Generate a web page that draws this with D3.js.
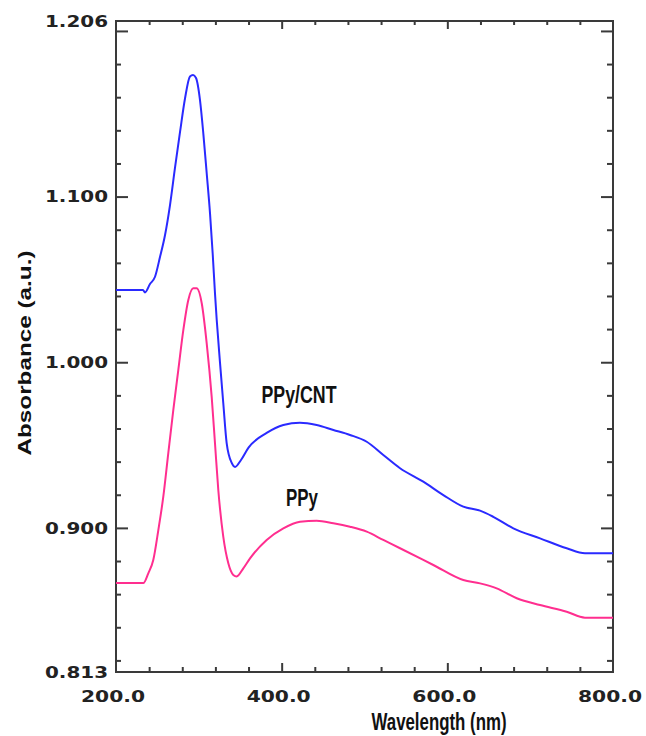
<!DOCTYPE html>
<html>
<head>
<meta charset="utf-8">
<script src="https://cdn.jsdelivr.net/npm/d3@7/dist/d3.min.js"></script>
<style>
  html, body { margin: 0; padding: 0; background: #fff; }
  svg { display: block; }
</style>
</head>
<body>
<svg id="chart" width="646" height="736"></svg>
<script>
// ---- data ----
const wavelengthCNT = [200, 232.6, 235.0, 241.0, 247.1, 253.1, 259.2, 265.2, 271.2, 277.3,
  283.3, 289.3, 293.0, 296.6, 301.4, 305.4, 309.5, 313.5, 316.7, 319.5,
  321.6, 325.6, 329.5, 333.6, 339.7, 343.7, 350.9, 360.0, 381.9, 402.0,
  422.1, 442.3, 462.4, 482.5, 502.7, 522.7, 542.9, 571.0, 595.2, 619.3,
  639.5, 655.5, 679.7, 711.9, 744.1, 766.2, 800];
const absorbanceCNT = [1.0436, 1.0436, 1.0421, 1.0472, 1.0516, 1.0635, 1.0768, 1.0949, 1.1173, 1.1390,
  1.1592, 1.1725, 1.1734, 1.1716, 1.1583, 1.1382, 1.1141, 1.0899, 1.0658, 1.0416,
  1.0255, 0.9995, 0.9754, 0.9512, 0.9392, 0.9368, 0.9410, 0.9485, 0.9573, 0.9621,
  0.9635, 0.9621, 0.9591, 0.9561, 0.9520, 0.9440, 0.9360, 0.9279, 0.9198, 0.9128,
  0.9104, 0.9067, 0.8997, 0.8937, 0.8877, 0.8847, 0.8847];

const wavelengthPPy = [200, 233.0, 239.0, 245.0, 251.1, 257.1, 263.1, 269.2, 275.2, 281.3,
  287.3, 293.3, 297.4, 303.5, 309.5, 315.5, 319.5, 323.5, 329.5, 335.6,
  341.6, 345.7, 353.7, 361.8, 381.9, 402.0, 422.1, 442.3, 462.4, 482.5,
  502.7, 522.7, 542.9, 583.1, 619.3, 639.5, 659.6, 683.8, 711.9, 744.1,
  766.2, 800];
const absorbancePPy = [0.8667, 0.8667, 0.8726, 0.8806, 0.8987, 0.9188, 0.9450, 0.9712, 0.9953, 1.0195,
  1.0376, 1.0446, 1.0446, 1.0356, 1.0114, 0.9792, 0.9511, 0.9229, 0.8947, 0.8786,
  0.8716, 0.8707, 0.8756, 0.8816, 0.8927, 0.8997, 0.9037, 0.9043, 0.9028, 0.9007,
  0.8977, 0.8927, 0.8877, 0.8776, 0.8685, 0.8665, 0.8635, 0.8575, 0.8534, 0.8494,
  0.8458, 0.8458];

const seriesNames = ["PPy/CNT", "PPy"];

const xTickLabels = ["200.0", "400.0", "600.0", "800.0"];
const xTickLabelValues = [200, 400, 600, 800];
const xMajorTicks = [400, 600];
const xMinorTicks = d3.range(240, 800, 40).filter(v => v !== 400 && v !== 600);

const yTickLabels = ["1.206", "1.100", "1.000", "0.900", "0.813"];
const yTickLabelValues = [1.206, 1.100, 1.000, 0.900, 0.813];
const yMajorTicks = [0.9, 1.0, 1.1, 1.2];
const yMinorTicks = d3.range(0.82, 1.2, 0.02).map(v => +v.toFixed(2)).filter(v => !yMajorTicks.some(m => Math.abs(m - v) < 1e-6));

const xTitle = "Wavelength (nm)";
const yTitle = "Absorbance (a.u.)";

// ---- layout ----
const L = 116, R = 613, T = 21, B = 672;
const svg = d3.select("#chart");
const x = d3.scaleLinear().domain([200, 800]).range([L, R]);
const y = d3.scaleLinear().domain([0.813, 1.206]).range([B, T]);

const axisColor = "#3a3a3a";

function styleAxis(g) {
  g.select(".domain").remove();
  g.selectAll(".tick line").attr("stroke", axisColor).attr("stroke-width", 2);
}

// ticks (inward), all four sides
svg.append("g").attr("transform", `translate(0,${B})`)
  .call(d3.axisBottom(x).tickValues(xMinorTicks).tickSize(-5).tickFormat("")).call(styleAxis);
svg.append("g").attr("transform", `translate(0,${B})`)
  .call(d3.axisBottom(x).tickValues(xMajorTicks).tickSize(-9).tickFormat("")).call(styleAxis);
svg.append("g").attr("transform", `translate(0,${T})`)
  .call(d3.axisTop(x).tickValues(xMinorTicks).tickSize(-4).tickFormat("")).call(styleAxis);
svg.append("g").attr("transform", `translate(0,${T})`)
  .call(d3.axisTop(x).tickValues(xMajorTicks).tickSize(-8).tickFormat("")).call(styleAxis);

svg.append("g").attr("transform", `translate(${L},0)`)
  .call(d3.axisLeft(y).tickValues(yMinorTicks).tickSize(-5).tickFormat("")).call(styleAxis);
svg.append("g").attr("transform", `translate(${L},0)`)
  .call(d3.axisLeft(y).tickValues(yMajorTicks).tickSize(-12).tickFormat("")).call(styleAxis);
svg.append("g").attr("transform", `translate(${R},0)`)
  .call(d3.axisRight(y).tickValues(yMinorTicks).tickSize(-6).tickFormat("")).call(styleAxis);
svg.append("g").attr("transform", `translate(${R},0)`)
  .call(d3.axisRight(y).tickValues(yMajorTicks).tickSize(-12).tickFormat("")).call(styleAxis);

// frame
svg.append("rect")
  .attr("x", L).attr("y", T).attr("width", R - L).attr("height", B - T)
  .attr("fill", "none").attr("stroke", axisColor).attr("stroke-width", 2);

// curves
const line = d3.line().x(d => x(d[0])).y(d => y(d[1])).curve(d3.curveMonotoneX);
const cntData = wavelengthCNT.map((w, i) => [w, absorbanceCNT[i]]);
const ppyData = wavelengthPPy.map((w, i) => [w, absorbancePPy[i]]);

svg.append("path").datum(ppyData).attr("d", line)
  .attr("fill", "none").attr("stroke", "#ff2e8f").attr("stroke-width", 2);
svg.append("path").datum(cntData).attr("d", line)
  .attr("fill", "none").attr("stroke", "#2a2aff").attr("stroke-width", 2);

// tick labels
const tickFont = "'DejaVu Sans', Verdana, sans-serif";
svg.append("g").selectAll("text").data(yTickLabelValues).join("text")
  .attr("x", 108).attr("y", d => y(d)).attr("dy", "0.36em")
  .attr("text-anchor", "end")
  .attr("font-family", tickFont).attr("font-weight", "bold").attr("font-size", 16)
  .attr("fill", "#222")
  .attr("textLength", 63).attr("lengthAdjust", "spacingAndGlyphs")
  .text((d, i) => yTickLabels[i]);

svg.append("g").selectAll("text").data(xTickLabelValues).join("text")
  .attr("x", d => x(d) - 3).attr("y", 702)
  .attr("text-anchor", "middle")
  .attr("font-family", tickFont).attr("font-weight", "bold").attr("font-size", 16)
  .attr("fill", "#222")
  .attr("textLength", 64).attr("lengthAdjust", "spacingAndGlyphs")
  .text((d, i) => xTickLabels[i]);

// axis titles
const narrowFont = "'Liberation Sans Narrow', 'Arial Narrow', 'Liberation Sans', Arial, sans-serif";
svg.append("text")
  .attr("x", 439).attr("y", 730)
  .attr("text-anchor", "middle")
  .attr("font-family", narrowFont).attr("font-weight", "bold").attr("font-size", 23)
  .attr("fill", "#111")
  .attr("textLength", 135).attr("lengthAdjust", "spacingAndGlyphs")
  .text(xTitle);

svg.append("text")
  .attr("transform", "translate(31,353) rotate(-90)")
  .attr("text-anchor", "middle")
  .attr("font-family", "'Liberation Sans', Arial, sans-serif").attr("font-weight", "bold").attr("font-size", 19)
  .attr("fill", "#111")
  .attr("textLength", 205).attr("lengthAdjust", "spacingAndGlyphs")
  .text(yTitle);

// series labels
const labelWidths = [75, 32];
svg.append("g").selectAll("text").data(seriesNames).join("text")
  .attr("x", (d, i) => i === 0 ? 299 : 302)
  .attr("y", (d, i) => i === 0 ? 403 : 506)
  .attr("text-anchor", "middle")
  .attr("font-family", narrowFont).attr("font-weight", "bold").attr("font-size", 24)
  .attr("fill", "#111")
  .attr("textLength", (d, i) => labelWidths[i]).attr("lengthAdjust", "spacingAndGlyphs")
  .text(d => d);
</script>
</body>
</html>
